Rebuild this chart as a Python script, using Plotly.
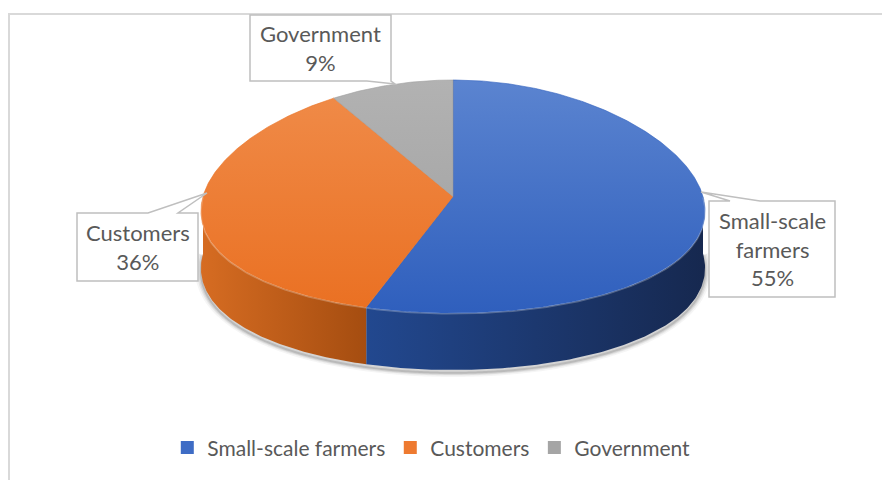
import numpy as np
import plotly.graph_objects as go

# Stakeholder shares (percent)
categories = ["Small-scale farmers", "Customers", "Government"]
shares = [55, 36, 9]
label_text = ["Small-scale<br>farmers", "Customers", "Government"]

top_colors = [("#5b84d0", "#2f5fbd"), ("#f08c4a", "#ea7022"), ("#b2b2b2", "#9f9f9f")]
side_colors = [("#22488f", "#16284f"), ("#d66c22", "#a54d10")]
legend_colors = ["#3e6cc5", "#ee7a30", "#a5a5a5"]

# Pie geometry in page pixels (y grows downward)
CX, CY, RX, RY, DEPTH, PERSP = 453.0, 196.5, 250.0, 116.5, 57.0, 0.13
W, H = 882, 480


def rim(theta_deg, dy=0.0):
    t = np.radians(theta_deg)
    x = CX + RX * np.sin(t) * (1 - PERSP * np.cos(t))
    y = CY - RY * np.cos(t) + dy
    return x, y


fractions = np.array(shares, dtype=float) / sum(shares)
ends = np.cumsum(fractions) * 360.0
starts = np.concatenate([[0.0], ends[:-1]])

fig = go.Figure()

# soft shadow under the front wall
th = np.linspace(90, 270, 200)
for k, (w, a) in enumerate([(12, 0.04), (8, 0.06), (5, 0.08), (2, 0.12)]):
    sx, sy = rim(th, DEPTH + 1 + k * 0.6)
    fig.add_trace(go.Scatter(x=sx, y=sy, mode="lines", hoverinfo="skip", showlegend=False,
                             line=dict(color=f"rgba(0,0,0,{a})", width=w, shape="spline")))

# front walls of the slices that face the viewer
for i, (a0, a1) in enumerate(zip(starts, ends)):
    lo, hi = max(a0, 90.0), min(a1, 270.0)
    if hi <= lo:
        continue
    th = np.linspace(lo, hi, 120)
    tx, ty = rim(th)
    bx, by = rim(th[::-1], DEPTH)
    xs = np.concatenate([tx, bx, tx[:1]])
    ys = np.concatenate([ty, by, ty[:1]])
    c0, c1 = side_colors[i]
    fig.add_trace(go.Scatter(
        x=xs, y=ys, mode="lines", fill="toself", line=dict(width=0),
        fillgradient=dict(type="horizontal", colorscale=[[0, c0], [1, c1]],
                          start=float(xs.min()), stop=float(xs.max())),
        hoverinfo="skip", showlegend=False))

# top faces
for i, (a0, a1) in enumerate(zip(starts, ends)):
    th = np.linspace(a0, a1, max(int((a1 - a0) * 2), 10))
    ax, ay = rim(th)
    xs = np.concatenate([[CX], ax, [CX]])
    ys = np.concatenate([[CY], ay, [CY]])
    c0, c1 = top_colors[i]
    fig.add_trace(go.Scatter(
        x=xs, y=ys, mode="lines", fill="toself", line=dict(width=0.6, color=c1),
        fillgradient=dict(type="vertical", colorscale=[[0, c0], [1, c1]],
                          start=CY - RY, stop=CY + RY),
        hoverinfo="skip", showlegend=False))

# light rim along the front edge of the top face
th = np.linspace(90, 270, 200)
hx, hy = rim(th, 0.8)
fig.add_trace(go.Scatter(x=hx, y=hy, mode="lines", hoverinfo="skip", showlegend=False,
                         line=dict(color="rgba(255,255,255,0.25)", width=1.5)))

# legend entries
for name, col in zip(categories, legend_colors):
    fig.add_trace(go.Scatter(x=[None], y=[None], mode="markers", name=name,
                             marker=dict(symbol="square", size=13, color=col)))

# chart frame
shapes = [dict(type="rect", xref="x", yref="y", x0=9, y0=14, x1=W + 20, y1=H + 20,
               line=dict(color="#d9d9d9", width=2), fillcolor="rgba(0,0,0,0)", layer="below")]

# callout boxes with pointers
callouts = [
    ("M 709 201 L 730 201 L 701 192 L 760 201 L 835 201 L 835 297 L 709 297 Z", 772, 249),
    ("M 77 213 L 148 213 L 207 193 L 178 213 L 198 213 L 198 281 L 77 281 Z", 137.5, 247),
    ("M 250 15 L 391 15 L 391 81 L 395 84 L 367 81 L 250 81 Z", 320.5, 48),
]
annotations = []
for (path, ax_, ay_), txt, val in zip(callouts, label_text, shares):
    shapes.append(dict(type="path", xref="x", yref="y", path=path,
                       line=dict(color="#bfbfbf", width=1.5), fillcolor="white"))
    annotations.append(dict(x=ax_, y=ay_, xref="x", yref="y", showarrow=False,
                            text=f"{txt}<br>{val}%", align="center",
                            font=dict(family="Lato", size=22, color="#595959")))

fig.update_layout(
    width=W, height=H, margin=dict(l=0, r=0, t=0, b=0),
    paper_bgcolor="white", plot_bgcolor="white",
    xaxis=dict(range=[0, W], visible=False, fixedrange=True),
    yaxis=dict(range=[H, 0], visible=False, fixedrange=True),
    shapes=shapes, annotations=annotations,
    legend=dict(orientation="h", x=0.489, xanchor="center", y=0.067, yanchor="middle",
                font=dict(family="Lato", size=21, color="#595959"),
                bgcolor="rgba(0,0,0,0)", itemclick=False, itemdoubleclick=False),
)

fig.write_html("out.html")
